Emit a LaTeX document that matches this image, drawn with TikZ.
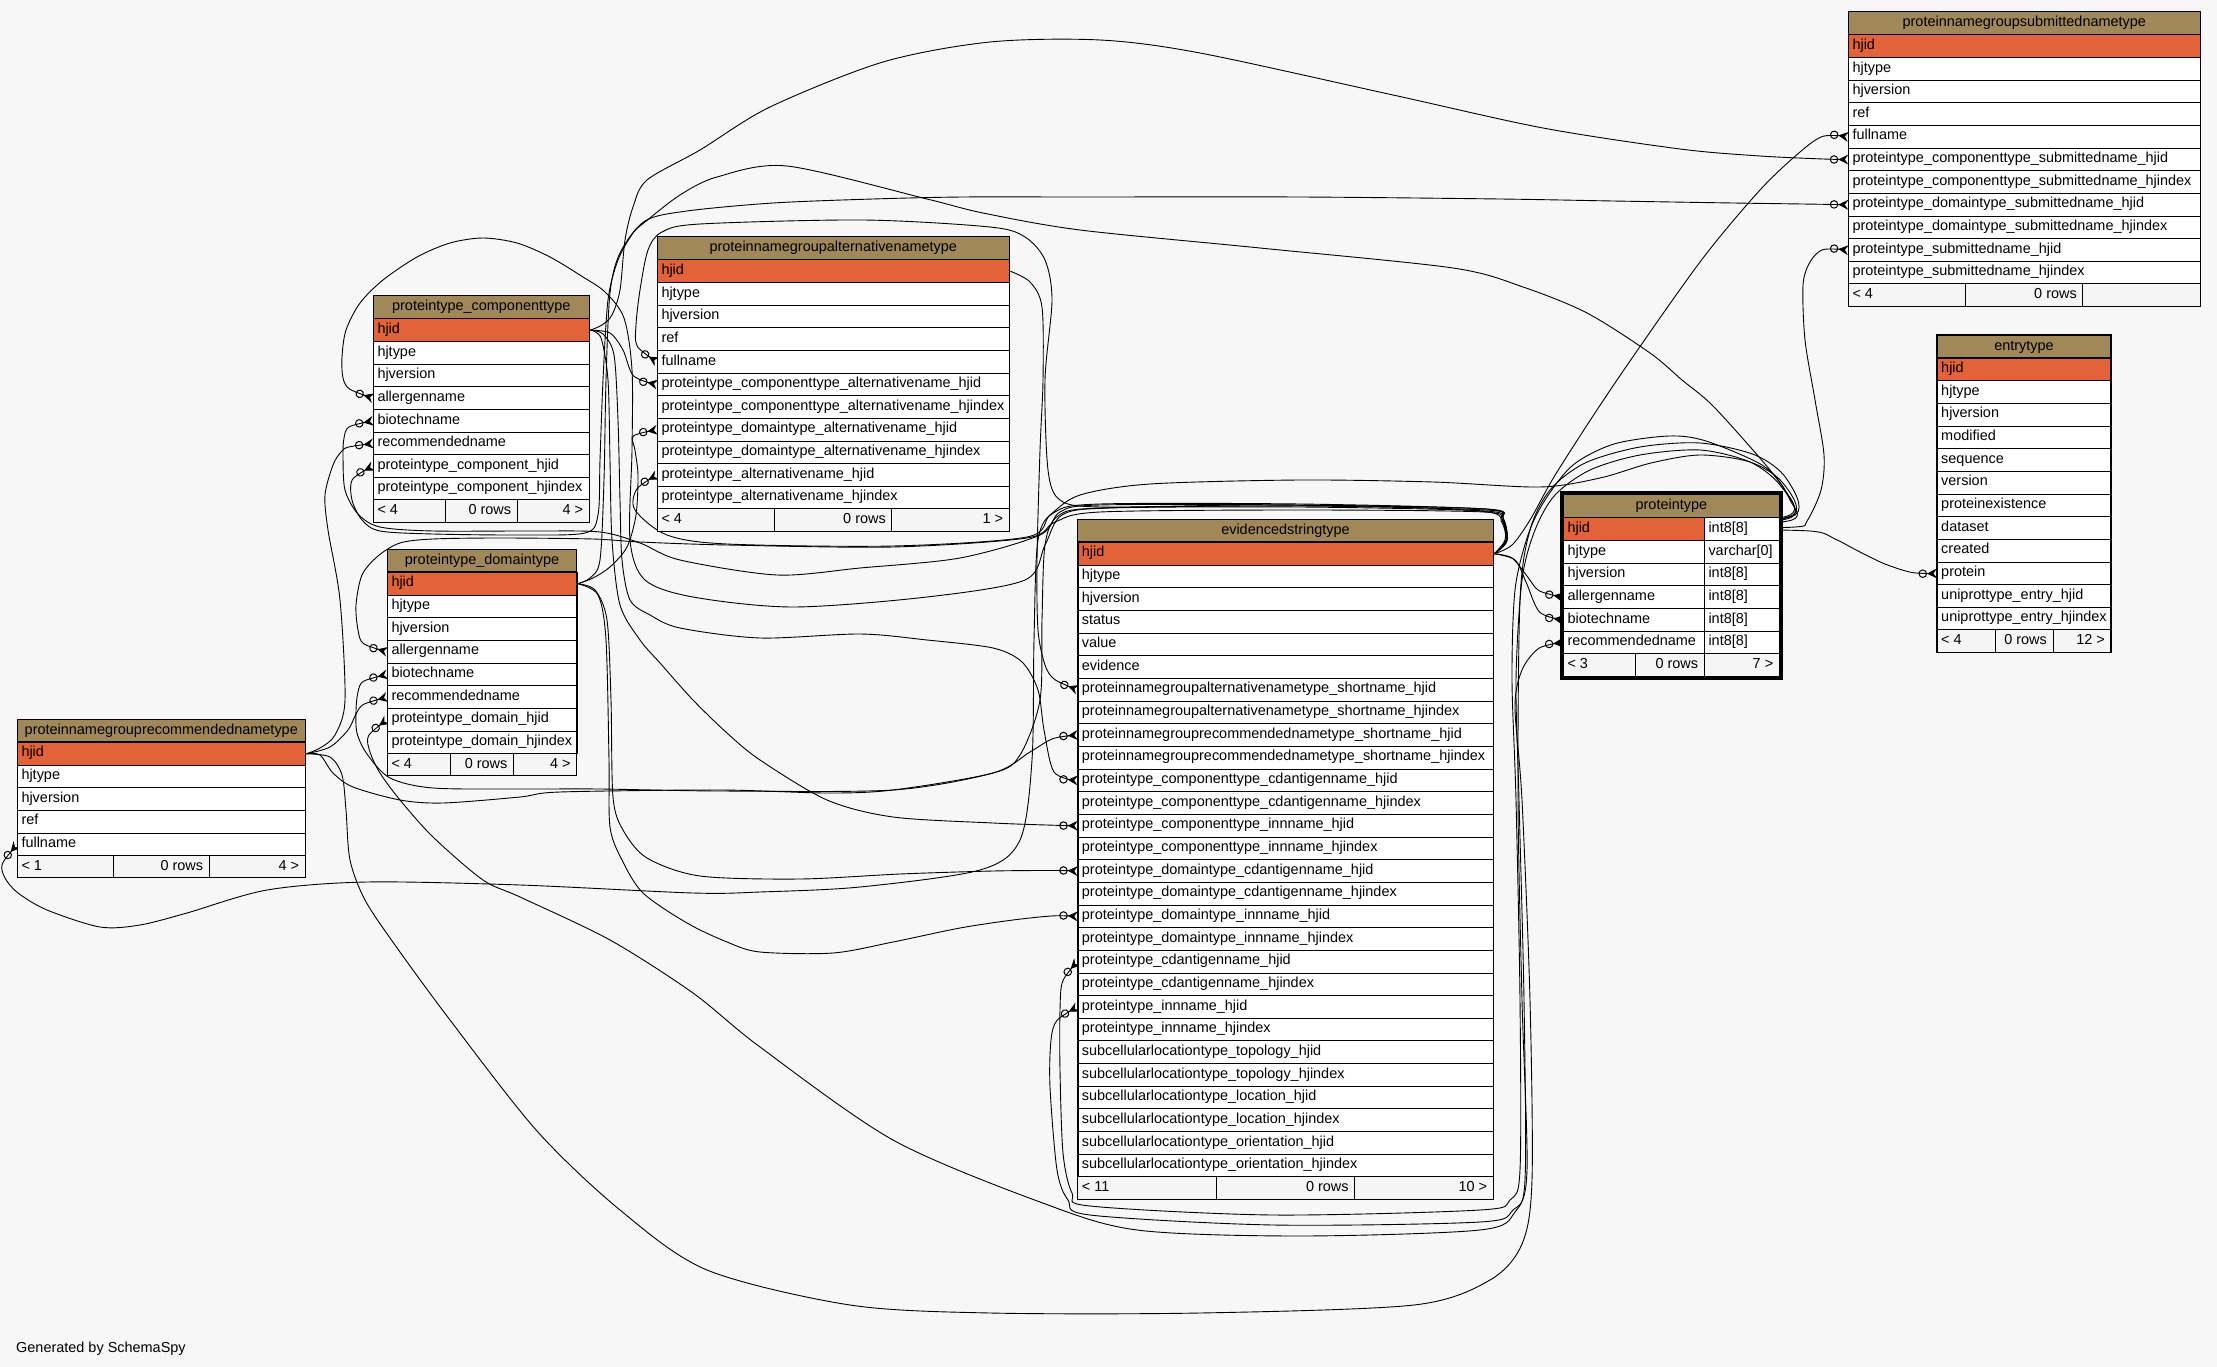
\documentclass[tikz,border=0pt]{standalone}
\usepackage{fontspec}
\setmainfont{Liberation Sans}
\usetikzlibrary{arrows.meta}
\definecolor{bgc}{HTML}{F7F7F7}
\definecolor{hdrc}{HTML}{A0885A}
\definecolor{pkc}{HTML}{E2623A}
\definecolor{ftc}{HTML}{F5F5F5}
\pgfdeclarelayer{back}
\pgfdeclarelayer{edges}
\pgfsetlayers{back,edges,main}
\def\rh{22.66}
\tikzset{
  txt/.style={inner sep=0pt,text=black,font=\fontsize{14.45}{17}\selectfont},
  tline/.style={draw=black,line width=1pt},
  rowcell/.style={draw=black,line width=1pt,inner sep=0pt,rectangle,minimum height=\rh pt},
  fk/.style={draw=black,line width=0.9pt,
    -{Circle[open,length=8.5pt,width=8.5pt,line width=1pt] Stealth[reversed,length=10pt,width=10pt,inset=3.5pt]}},
}
\newcommand{\dbtable}[8]{%
  \def\tid{#1}\def\xl{#2}\def\xr{#3}\def\yt{#4}%
  \pgfmathsetmacro\tw{#3-#2}%
  \fill[hdrc] (#2,#4) rectangle (#3,#4+\rh);
  \draw[tline] (#2,#4) rectangle (#3,#4+\rh);
  \node[txt,anchor=base] at ({(#2+#3)/2},#4+15) {\detokenize{#5}};
  \foreach \f [count=\i] in {#6}{%
    \ifnum\i=1 \def\rf{pkc}\else\def\rf{white}\fi
    \node[rowcell,fill=\rf,minimum width=\tw pt,anchor=north west] (\tid-\f) at (\xl,\yt+\rh*\i) {};
    \node[txt,anchor=base west] at (\xl+4,\yt+\rh*\i+15) {\expandafter\detokenize\expandafter{\f}};
    \xdef\nf{\i}%
  }
  \pgfmathsetmacro\yf{#4+\rh*(\nf+1)}%
  \pgfmathsetmacro\xa{#2+\tw/3}%
  \pgfmathsetmacro\xb{#2+2*\tw/3}%
  \fill[ftc] (#2,\yf) rectangle (#3,\yf+\rh);
  \draw[tline] (#2,\yf) rectangle (#3,\yf+\rh) (\xa,\yf) -- (\xa,\yf+\rh) (\xb,\yf) -- (\xb,\yf+\rh);
  \node[txt,anchor=base west] at (#2+4,\yf+15) {#7};
  \node[txt,anchor=base east] at (\xb-6,\yf+15) {0 rows};
  \node[txt,anchor=base east] at (#3-6,\yf+15) {#8};
  \draw[line width=1.1pt] (#2,#4) rectangle (#3,\yf+\rh);
}
\begin{document}
\begin{tikzpicture}[x=1pt,y=-1pt]
\begin{pgfonlayer}{back}
\fill[bgc] (0,0) rectangle (2217,1367);
\end{pgfonlayer}
\useasboundingbox (0,0) rectangle (2217,1367);

% ---------------- tables ----------------
\dbtable{sub}{1848.3}{2200.3}{11.7}{proteinnamegroupsubmittednametype}{hjid,hjtype,hjversion,ref,fullname,proteintype_componenttype_submittedname_hjid,proteintype_componenttype_submittedname_hjindex,proteintype_domaintype_submittedname_hjid,proteintype_domaintype_submittedname_hjindex,proteintype_submittedname_hjid,proteintype_submittedname_hjindex}{< 4}{}
\dbtable{ent}{1937}{2111}{335}{entrytype}{hjid,hjtype,hjversion,modified,sequence,version,proteinexistence,dataset,created,protein,uniprottype_entry_hjid,uniprottype_entry_hjindex}{< 4}{12 >}
\dbtable{ev}{1077.7}{1493.3}{519.3}{evidencedstringtype}{hjid,hjtype,hjversion,status,value,evidence,proteinnamegroupalternativenametype_shortname_hjid,proteinnamegroupalternativenametype_shortname_hjindex,proteinnamegrouprecommendednametype_shortname_hjid,proteinnamegrouprecommendednametype_shortname_hjindex,proteintype_componenttype_cdantigenname_hjid,proteintype_componenttype_cdantigenname_hjindex,proteintype_componenttype_innname_hjid,proteintype_componenttype_innname_hjindex,proteintype_domaintype_cdantigenname_hjid,proteintype_domaintype_cdantigenname_hjindex,proteintype_domaintype_innname_hjid,proteintype_domaintype_innname_hjindex,proteintype_cdantigenname_hjid,proteintype_cdantigenname_hjindex,proteintype_innname_hjid,proteintype_innname_hjindex,subcellularlocationtype_topology_hjid,subcellularlocationtype_topology_hjindex,subcellularlocationtype_location_hjid,subcellularlocationtype_location_hjindex,subcellularlocationtype_orientation_hjid,subcellularlocationtype_orientation_hjindex}{< 11}{10 >}
\dbtable{comp}{373.3}{589.3}{295.7}{proteintype_componenttype}{hjid,hjtype,hjversion,allergenname,biotechname,recommendedname,proteintype_component_hjid,proteintype_component_hjindex}{< 4}{4 >}
\dbtable{dom}{387.3}{576.7}{549.3}{proteintype_domaintype}{hjid,hjtype,hjversion,allergenname,biotechname,recommendedname,proteintype_domain_hjid,proteintype_domain_hjindex}{< 4}{4 >}
\dbtable{alt}{657.3}{1009.3}{236.7}{proteinnamegroupalternativenametype}{hjid,hjtype,hjversion,ref,fullname,proteintype_componenttype_alternativename_hjid,proteintype_componenttype_alternativename_hjindex,proteintype_domaintype_alternativename_hjid,proteintype_domaintype_alternativename_hjindex,proteintype_alternativename_hjid,proteintype_alternativename_hjindex}{< 4}{1 >}
\dbtable{rec}{17.3}{305.3}{719.3}{proteinnamegrouprecommendednametype}{hjid,hjtype,hjversion,ref,fullname}{< 1}{4 >}

% proteintype (two columns, framed)
\def\ptl{1563.3}\def\pts{1704.3}\def\ptr{1779.4}\def\ptt{494.6}\def\prh{22.7}
\fill[hdrc] (\ptl,\ptt) rectangle (\ptr,\ptt+\prh);
\draw[tline] (\ptl,\ptt) rectangle (\ptr,\ptt+\prh);
\node[txt,anchor=base] at ({(\ptl+\ptr)/2},\ptt+15) {proteintype};
\foreach \f/\ty [count=\i] in {hjid/int8[8],hjtype/varchar[0],hjversion/int8[8],allergenname/int8[8],biotechname/int8[8],recommendedname/int8[8]}{
  \ifnum\i=1 \def\rf{pkc}\else\def\rf{white}\fi
  \node[rowcell,fill=\rf,minimum width=141pt,minimum height=22.7pt,anchor=north west] (pt-\f) at (\ptl,\ptt+\prh*\i) {};
  \node[rowcell,fill=white,minimum width=75.1pt,minimum height=22.7pt,anchor=north west] at (\pts,\ptt+\prh*\i) {};
  \node[txt,anchor=base west] at (\ptl+4,\ptt+\prh*\i+15) {\f};
  \node[txt,anchor=base west] at (\pts+4,\ptt+\prh*\i+15) {\ty};
}
\fill[ftc] (\ptl,\ptt+\prh*7) rectangle (\ptr,\ptt+\prh*8);
\draw[tline] (\ptl,\ptt+\prh*7) rectangle (\ptr,\ptt+\prh*8) (1635.4,\ptt+\prh*7) -- (1635.4,\ptt+\prh*8) (\pts,\ptt+\prh*7) -- (\pts,\ptt+\prh*8);
\node[txt,anchor=base west] at (\ptl+4,\ptt+\prh*7+15) {< 3};
\node[txt,anchor=base east] at (\pts-6,\ptt+\prh*7+15) {0 rows};
\node[txt,anchor=base east] at (\ptr-6,\ptt+\prh*7+15) {7 >};
\draw[line width=1.1pt] (\ptl,\ptt) rectangle (\ptr,\ptt+\prh*8);
\draw[line width=2.6pt] (1561.2,492.6) rectangle (1781.2,678.4);

\node[txt,anchor=base west] (gen) at (16,1352) {Generated by SchemaSpy};

% ---------------- connectors ----------------
\begin{pgfonlayer}{edges}
% from evidencedstringtype.hjid
\draw[fk] plot[smooth] coordinates {(ev-hjid.east) (1512,545) (1530,520) (1557,472) (1617,380) (1700,262) (1760,190) (1800,152) (1823,136.3) (sub-fullname.west)};
\draw[fk] plot[smooth] coordinates {(ev-hjid.east) (1512,558) (1527,576) (1539,590.7) (pt-allergenname.west)};
\draw[fk] plot[smooth] coordinates {(ev-hjid.east) (1515,560) (1526,582) (1539.5,612) (pt-biotechname.west)};
\draw[fk] plot[smooth] coordinates {(ev-hjid.east) (1505,540) (1503,522) (1488,512) (1400,507) (1250,505) (1100,507) (1060,500) (1048,470) (1045,380) (1052,300) (1045,260) (1025,237) (990,227) (863,220) (700,224) (662,232) (648,250) (640,290) (636,325) (637.3,346.3) (alt-fullname.west)};
\draw[fk] plot[smooth] coordinates {(ev-hjid.east) (1506,540) (1502,520) (1485,511) (1300,507) (1110,508) (1062,515) (1045,545) (1025,580) (927,597) (793,607) (693,597) (645,580) (630,540) (632,450) (632,370) (624,318) (605,292) (583,277) (550,257) (517,243) (483,238) (450,243) (417,257) (383,280) (360,303) (346,330) (342,357) (343,378) (349.8,389.2) (comp-allergenname.west)};
\draw[fk] plot[smooth] coordinates {(ev-hjid.east) (1507,540) (1503,519) (1487,509) (1300,505) (1100,505) (1060,512) (1040,535) (960,558) (860,568) (777,575) (680,560) (640,543) (600,532) (533,531) (433,531) (380,527) (358,514) (345,490) (343,457) (344,438) (349.2,426.8) (comp-biotechname.west)};
\draw[fk] plot[smooth] coordinates {(ev-hjid.east) (1506,541) (1501,521) (1484,512) (1300,510) (1100,512) (1055,522) (1027,538) (893,547) (727,545) (640,542) (593,539) (500,538) (433,539) (400,543) (378,556) (362,575) (356,605) (358,630) (363.5,643.6) (dom-allergenname.west)};
\draw[fk] plot[smooth] coordinates {(ev-hjid.east) (1507,540) (1503,518) (1486,510) (1300,506) (1100,508) (1058,516) (1045,545) (1042,620) (1040,700) (1020,755) (993,773) (893,790) (720,791) (600,789) (520,789) (433,788) (390,778) (367,754) (357,733) (356,710) (358,692) (363.4,681.3) (dom-biotechname.west)};
\draw[fk] plot[smooth] coordinates {(ev-hjid.east) (1507,541) (1502,519) (1485,509) (1300,504) (1100,504) (1055,512) (1038,540) (1034,640) (1032,760) (1020,840) (980,870) (860,887) (760,892) (693,893) (520,885) (367,882) (267,890) (187,913) (140,925) (100,927) (47,910) (18,893) (5,878) (2.3,863.9) (rec-fullname.west)};
% from proteintype.hjid
\draw[fk] plot[smooth] coordinates {(pt-hjid.east) (1810,531) (1835,539) (1858,551) (1885,564) (1912,572.5) (ent-protein.west)};
\draw[fk] plot[smooth] coordinates {(pt-hjid.east) (1795,527) (1807,521) (1821,490) (1824,455) (1815,400) (1805,340) (1803,285) (1810,262) (1823,249.6) (sub-proteintype_submittedname_hjid.west)};
\draw[fk] plot[smooth] coordinates {(pt-hjid.east) (1790,515) (1785,490) (1762,465) (1706,441) (1669,436) (1614,444) (1573,465) (1545,500) (1528,535) (1515,590) (1512,680) (1516,800) (1520,1000) (1520,1170) (1510,1200) (1480,1210) (1273,1215) (1090,1206) (1072,1193) (1063,1153) (1060,1070) (1060,1010) (1062.7,981.2) (ev-proteintype_cdantigenname_hjid.west)};
\draw[fk] plot[smooth] coordinates {(pt-hjid.east) (1792,517) (1780,485) (1750,462) (1700,450) (1640,455) (1590,470) (1555,495) (1535,530) (1522,580) (1516,680) (1519,800) (1524,1000) (1525,1180) (1513,1210) (1480,1222) (1273,1225) (1090,1215) (1068,1200) (1057,1170) (1050,1087) (1051,1040) (1057,1020.4) (ev-proteintype_innname_hjid.west)};
\draw[fk] plot[smooth] coordinates {(pt-hjid.east) (1793,515) (1782,482) (1750,462) (1700,455) (1651,463) (1600,478) (1540,487) (1433,482) (1300,480) (1150,484) (1080,495) (1050,515) (1027,537) (893,546) (727,544) (667,535) (635,510) (636.8,489.1) (alt-proteintype_alternativename_hjid.west)};
\draw[fk] plot[smooth] coordinates {(pt-hjid.east) (1792,520) (1790,500) (1770,470) (1714,407) (1682,380) (1650,353) (1587,313) (1523,287) (1453,268) (1260,248) (1080,230) (983,213) (927,199) (787,166) (717,177) (680,195) (645,222) (633,233) (618,260) (608,300) (603,380) (600,460) (598,515) (585,533) (520,535) (433,534) (380,531) (362,520) (352,500) (352.5,479.4) (comp-proteintype_component_hjid.west)};
\draw[fk] plot[smooth] coordinates {(pt-hjid.east) (1795,515) (1786,478) (1755,455) (1700,443) (1640,447) (1585,463) (1550,490) (1530,530) (1520,600) (1518,800) (1522,1000) (1527,1170) (1515,1212) (1480,1230) (1300,1236) (1137,1230) (1040,1202) (893,1140) (760,1047) (693,993) (610,940) (520,897) (483,880) (433,837) (400,800) (380,773) (370,752) (368.5,735.8) (dom-proteintype_domain_hjid.west)};
% from proteintype_componenttype.hjid
\draw[fk] plot[smooth] coordinates {(comp-hjid.east) (602,325) (612,315) (620,290) (625,240) (633,207) (647,180) (700,150) (770,107) (883,62) (990,42) (1100,40) (1200,53) (1393,95) (1543,128) (1680,149) (1760,156) (1823,159) (sub-proteintype_componenttype_submittedname_hjid.west)};
\draw[fk] plot[smooth] coordinates {(comp-hjid.east) (610,333) (623,350) (633.6,376) (alt-proteintype_componenttype_alternativename_hjid.west)};
\draw[fk] plot[smooth] coordinates {(comp-hjid.east) (603,334) (614,355) (618,420) (620,500) (622,560) (630,600) (650,615) (680,628) (760,638) (860,634) (927,640) (993,648) (1022,662) (1038,690) (1044,730) (1054,772) (ev-proteintype_componenttype_cdantigenname_hjid.west)};
\draw[fk] plot[smooth] coordinates {(comp-hjid.east) (601,338) (608,380) (610,460) (612,540) (620,605) (640,640) (660,663) (693,700) (727,733) (760,760) (827,800) (893,817) (993,823) (1052.7,825.2) (ev-proteintype_componenttype_innname_hjid.west)};
% from proteintype_domaintype.hjid
\draw[fk] plot[smooth] coordinates {(dom-hjid.east) (590,578) (600,560) (604,480) (606,380) (610,293) (620,253) (645,221) (687,211) (773,203) (873,199) (963,197) (1080,197) (1300,197) (1500,199) (1613,201) (1733,203) (1823,204.3) (sub-proteintype_domaintype_submittedname_hjid.west)};
\draw[fk] plot[smooth] coordinates {(dom-hjid.east) (593,578) (610,567) (627,547) (636,515) (638,475) (635,450) (633.3,436) (alt-proteintype_domaintype_alternativename_hjid.west)};
\draw[fk] plot[smooth] coordinates {(dom-hjid.east) (595,590) (607,620) (611,700) (613,797) (623,830) (647,858) (700,876) (800,879) (900,874) (993,871) (1052.7,870.5) (ev-proteintype_domaintype_cdantigenname_hjid.west)};
\draw[fk] plot[smooth] coordinates {(dom-hjid.east) (598,595) (606,640) (609,760) (610,827) (622,860) (643,893) (687,923) (727,942) (760,952) (833,953) (893,942) (960,928) (1013,920) (1052.7,915.9) (ev-proteintype_domaintype_innname_hjid.west)};
% from proteinnamegrouprecommendednametype.hjid
\draw[fk] plot[smooth] coordinates {(rec-hjid.east) (320,748) (335,735) (345,700) (340,600) (328,530) (325,495) (333,465) (341,452) (348.6,447) (comp-recommendedname.west)};
\draw[fk] plot[smooth] coordinates {(rec-hjid.east) (330,747) (348,730) (356,714) (363.5,704.4) (dom-recommendedname.west)};
\draw[fk] plot[smooth] coordinates {(rec-hjid.east) (320,755) (333,773) (353,787) (400,800) (443,803) (520,797) (560,792) (720,790) (827,793) (893,790) (993,773) (1030,752) (1053,738.6) (ev-proteinnamegrouprecommendednametype_shortname_hjid.west)};
\draw[fk] plot[smooth] coordinates {(rec-hjid.east) (330,757) (342,775) (346,810) (350,860) (365,900) (395,945) (450,1020) (537,1131) (620,1210) (707,1270) (850,1305) (990,1313) (1200,1313) (1414,1305) (1490,1280) (1522,1244) (1532,1180) (1530,1000) (1522,800) (1515,707) (1522,670) (1539,648.2) (pt-recommendedname.west)};
% from proteinnamegroupalternativenametype.hjid
\draw[fk] plot[smooth] coordinates {(alt-hjid.east) (1030,282) (1042,307) (1043,380) (1040,450) (1037,560) (1038,630) (1045,665) (1054.7,679.5) (ev-proteinnamegroupalternativenametype_shortname_hjid.west)};
\end{pgfonlayer}
\end{tikzpicture}
\end{document}
